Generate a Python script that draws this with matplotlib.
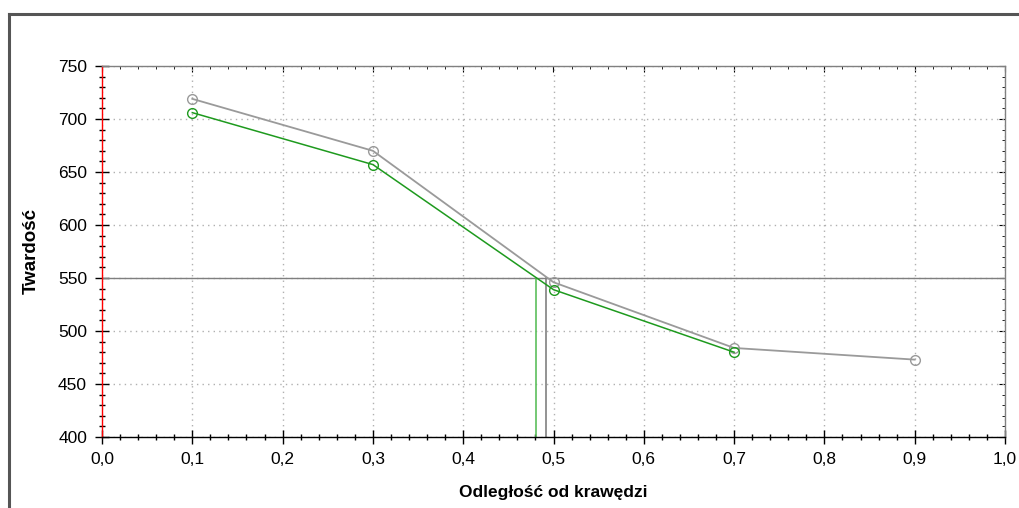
import numpy as np
import matplotlib.pyplot as plt
from matplotlib.ticker import MultipleLocator, FuncFormatter
from matplotlib.lines import Line2D

plt.rcParams['font.family'] = ['Liberation Sans', 'DejaVu Sans']

# data
x_gray = [0.1, 0.3, 0.5, 0.7, 0.9]
y_gray = [719, 670, 546, 484, 473]
x_green = [0.1, 0.3, 0.5, 0.7]
y_green = [706, 657, 539, 480]
level = 550
cross_green = 0.481
cross_gray = 0.492

fig = plt.figure(figsize=(10.19, 5.08), dpi=100)
ax = fig.add_axes([102/1019, 71/508, 903/1019, 371/508])

# outer frame of the window
fig.add_artist(Line2D([9/1019, 1.0], [1-14/508, 1-14/508], transform=fig.transFigure, color='#555555', lw=2.2))
fig.add_artist(Line2D([9/1019, 9/1019], [0, 1-14/508], transform=fig.transFigure, color='#555555', lw=2.2))

ax.set_xlim(0, 1.0)
ax.set_ylim(400, 750)

ax.grid(True, which='major', color='#b0b0b0', linestyle=(0, (1, 3)), lw=1)
ax.set_axisbelow(True)

ax.axhline(level, color='#7f7f7f', lw=1, zorder=2)
ax.plot([cross_green, cross_green], [400, level], color='#5cbf5c', lw=1.2, zorder=2)
ax.plot([cross_gray, cross_gray], [400, level], color='#808080', lw=1.2, zorder=2)

ax.plot(x_gray, y_gray, color='#9a9a9a', lw=1.3, marker='o', ms=7,
        mfc='none', mec='#9a9a9a', mew=1, zorder=3)
ax.plot(x_green, y_green, color='#1e9a1e', lw=1.1, marker='o', ms=7,
        mfc='none', mec='#1e9a1e', mew=1, zorder=4)

ax.xaxis.set_major_locator(MultipleLocator(0.1))
ax.xaxis.set_minor_locator(MultipleLocator(0.02))
ax.yaxis.set_major_locator(MultipleLocator(50))
ax.yaxis.set_minor_locator(MultipleLocator(10))
ax.xaxis.set_major_formatter(FuncFormatter(lambda v, p: f'{v:.1f}'.replace('.', ',')))

ax.tick_params(which='major', direction='inout', length=9.5, width=1, colors='black',
               labelsize=12.5, top=False, right=False)
ax.tick_params(which='minor', direction='inout', length=4.5, width=1, colors='black',
               top=False, right=False)
ax.tick_params(axis='x', which='major', pad=6)
ax.tick_params(axis='y', which='major', pad=6)

ax.spines['left'].set_color('red')
ax.spines['bottom'].set_color('black')
ax.spines['top'].set_color('#808080')
ax.spines['right'].set_color('#808080')
for s in ax.spines.values():
    s.set_linewidth(1)

# inward ticks on top and right
top = ax.secondary_xaxis('top')
top.xaxis.set_major_locator(MultipleLocator(0.1))
top.xaxis.set_minor_locator(MultipleLocator(0.02))
top.tick_params(which='major', direction='in', length=4.5, color='black', labeltop=False)
top.tick_params(which='minor', direction='in', length=2.5, color='black')
top.spines['top'].set_visible(False)
right = ax.secondary_yaxis('right')
right.yaxis.set_major_locator(MultipleLocator(50))
right.yaxis.set_minor_locator(MultipleLocator(10))
right.tick_params(which='major', direction='in', length=4.5, color='black', labelright=False)
right.tick_params(which='minor', direction='in', length=2.5, color='black')
right.spines['right'].set_visible(False)

ax.set_xlabel('Odległość od krawędzi', fontsize=12.5, fontweight='bold', labelpad=13)
ax.set_ylabel('Twardość', fontsize=13.5, fontweight='bold', labelpad=13)

fig.savefig('out.png', dpi=100)
